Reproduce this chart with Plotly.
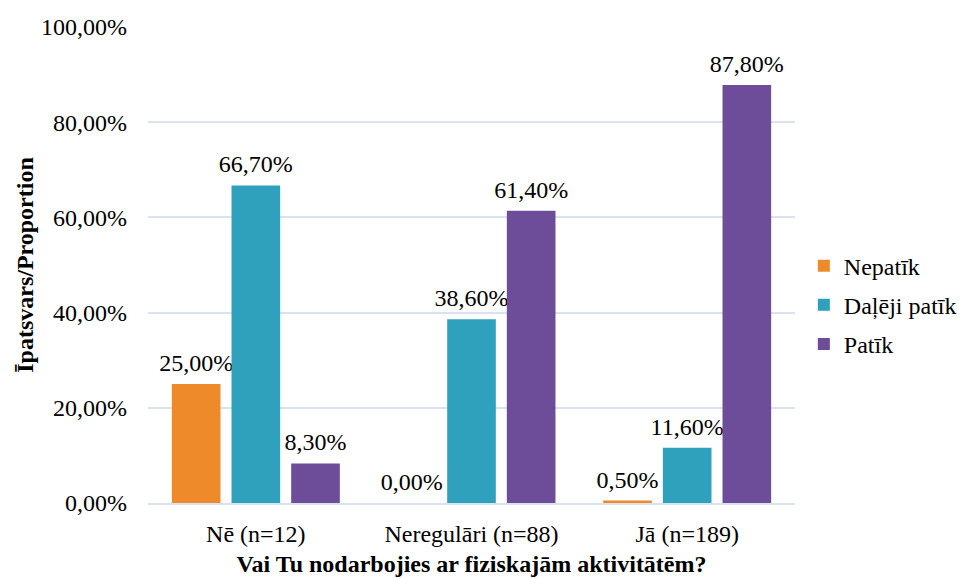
import plotly.graph_objects as go

categories = ["Nē (n=12)", "Neregulāri (n=88)", "Jā (n=189)"]
series_names = ["Nepatīk", "Daļēji patīk", "Patīk"]
nepatik = [0.25, 0.0, 0.005]
daleji = [0.667, 0.386, 0.116]
patik = [0.083, 0.614, 0.878]
colors = ["#ee8a2a", "#2fa1bd", "#6d4c9a"]

FF = "Liberation Serif"
FS = 24

label_tpl = ("<span style='font-size:24px'>%{y:.2%}</span><br>"
             "<span style='font-size:4px;color:rgba(0,0,0,0)'>.</span>")

fig = go.Figure()
for name, vals, col in zip(series_names, [nepatik, daleji, patik], colors):
    fig.add_trace(go.Bar(
        x=categories, y=vals, name=name, legendgroup=name,
        marker=dict(color=col, line=dict(width=0)),
        texttemplate=label_tpl, textposition="outside",
        textfont=dict(family=FF, size=7, color="black"),
        constraintext="none", textangle=0,
        cliponaxis=False,
    ))

fig.update_layout(
    width=967, height=579,
    margin=dict(l=140, r=180, t=19, b=84),
    paper_bgcolor="white", plot_bgcolor="white",
    separators=", ",
    barmode="group", bargap=0.17, bargroupgap=0.185,
    font=dict(family=FF, size=FS, color="black"),
    legend=dict(xref="container", yref="container", x=0.823, y=0.487,
                xanchor="left", yanchor="middle",
                font=dict(family=FF, size=FS, color="black"),
                itemwidth=30, tracegroupgap=5),
    showlegend=True,
)
fig.update_yaxes(range=[0, 1], dtick=0.2, tickformat=".2%", automargin=False,
                 tickfont=dict(family=FF, size=FS),
                 gridcolor="#d9e3f0", gridwidth=1.5, zeroline=False,
                 showline=False, ticks="", ticklabelstandoff=20,
                 title=dict(text="<b>Īpatsvars/Proportion</b>",
                            font=dict(family=FF, size=FS), standoff=0))
fig.update_xaxes(showline=True, linecolor="#d9e3f0", linewidth=1.5, ticks="",
                 automargin=False,
                 tickfont=dict(family=FF, size=FS),
                 ticklabelstandoff=8,
                 title=dict(text="<b>Vai Tu nodarbojies ar fiziskajām aktivitātēm?</b>",
                            font=dict(family=FF, size=FS), standoff=10))

fig.write_html("out.html")
